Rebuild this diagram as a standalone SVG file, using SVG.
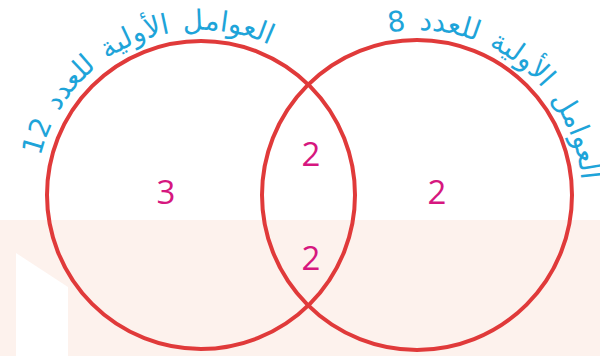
<svg xmlns="http://www.w3.org/2000/svg" width="600" height="356" viewBox="0 0 600 356">
<defs>
<style>
.ring{fill:none;stroke:#e03a3a;stroke-width:4}
.lbl{font-family:"DejaVu Sans","Noto Sans",sans-serif;font-size:28px;fill:#1ea4d9;word-spacing:4px}
.num{font-family:"Open Sans","Liberation Sans",sans-serif;font-size:33px;fill:#d6177f;text-anchor:middle}
</style>
<path id="arcL" d="M36,195 A165,165 0 0 1 302.6,65"/>
<path id="arcR" d="M329.6,55.1 A165,165 0 0 1 574.8,243.2"/>
</defs>
<g id="background">
<rect x="0" y="0" width="600" height="356" fill="#ffffff"/>
<rect x="0" y="220" width="600" height="136" fill="#fdf2ed"/>
<polygon points="16,253 68,287 68,356 16,356" fill="#ffffff"/>
</g>
<g id="set12">
<circle class="ring" cx="201" cy="195" r="154"/>
<text class="lbl" text-anchor="middle"><textPath href="#arcL" startOffset="50%">العوامل الأولية للعدد 12</textPath></text>
</g>
<g id="set8">
<circle class="ring" cx="417" cy="195" r="155"/>
<text class="lbl" text-anchor="middle"><textPath href="#arcR" startOffset="50%">العوامل الأولية للعدد 8</textPath></text>
</g>
<g id="only12"><text class="num" x="166" y="204">3</text></g>
<g id="common-top"><text class="num" x="311" y="166">2</text></g>
<g id="common-bottom"><text class="num" x="311" y="270">2</text></g>
<g id="only8"><text class="num" x="437" y="204">2</text></g>
</svg>
